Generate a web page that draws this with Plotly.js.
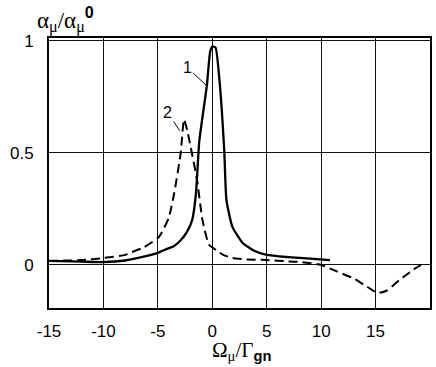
<!DOCTYPE html>
<html>
<head>
<meta charset="utf-8">
<script src="https://cdn.plot.ly/plotly-3.0.1.min.js"></script>
<style>
  html, body { margin: 0; padding: 0; background: #fff; }
  #chart { width: 436px; height: 367px; }
</style>
</head>
<body>
<div id="chart"></div>
<script>
// Curve 1 (solid)
const x1 = [-15, -12, -10, -8, -6.4, -5, -4.4, -3.5, -2.9, -2.3, -1.85, -1.5, -1.2, -0.9, -0.5, -0.2, 0, 0.3, 0.65, 1.1, 1.3, 1.85, 2.8, 3.8, 5, 7, 9, 10.8];
const y1 = [0.018, 0.015, 0.013, 0.02, 0.036, 0.054, 0.067, 0.085, 0.11, 0.15, 0.2, 0.32, 0.55, 0.66, 0.8, 0.95, 0.975, 0.97, 0.83, 0.51, 0.29, 0.17, 0.098, 0.065, 0.045, 0.035, 0.028, 0.022];

// Curve 2 (dashed)
const x2 = [-15, -12, -10, -8, -7.6, -6.4, -4.9, -4.0, -3.5, -2.9, -2.6, -2.3, -2.0, -1.4, -0.9, -0.3, 0.35, 1, 1.85, 3, 5, 7, 8.2, 10, 11.5, 12.9, 14, 15.2, 16, 17.2, 18.5, 19.5];
const y2 = [0.018, 0.022, 0.031, 0.045, 0.054, 0.076, 0.125, 0.21, 0.32, 0.5, 0.65, 0.6, 0.53, 0.38, 0.2, 0.09, 0.067, 0.045, 0.031, 0.025, 0.022, 0.016, 0.013, 0.0, -0.03, -0.058, -0.09, -0.125, -0.115, -0.067, -0.02, 0.01];

const xTicks = [-15, -10, -5, 0, 5, 10, 15];
const yTicks = [0, 0.5, 1];
const yTickText = ['0', '0.5', '1'];

const traces = [
    {
        type: 'scatter', mode: 'lines', x: x1, y: y1,
        line: { color: '#000', width: 2.3, shape: 'spline', smoothing: 0.5 },
        hoverinfo: 'skip'
    },
    {
        type: 'scatter', mode: 'lines', x: x2, y: y2,
        line: { color: '#000', width: 2, dash: '9px,5px', shape: 'spline', smoothing: 0.5 },
        hoverinfo: 'skip'
    }
];

const tickFont = { family: 'Liberation Sans, Arial, sans-serif', size: 17, color: '#000' };

const layout = {
    width: 436,
    height: 367,
    margin: { l: 49, r: 6, t: 38, b: 59 },
    paper_bgcolor: '#fff',
    plot_bgcolor: '#fff',
    showlegend: false,
    xaxis: {
        range: [-15, 20],
        tickvals: xTicks,
        ticktext: xTicks.map(String),
        tickfont: tickFont,
        ticks: '',
        ticklabelstandoff: 7,
        showgrid: true,
        gridcolor: '#111',
        gridwidth: 1,
        zeroline: false,
        showline: true,
        linecolor: '#000',
        linewidth: 2,
        mirror: true
    },
    yaxis: {
        range: [-0.192, 1.013],
        tickvals: yTicks,
        ticktext: yTickText,
        tickfont: tickFont,
        ticks: '',
        ticklabelstandoff: 10,
        showgrid: true,
        gridcolor: '#111',
        gridwidth: 1,
        zeroline: false,
        showline: true,
        linecolor: '#000',
        linewidth: 2,
        mirror: true
    },
    annotations: [
        {
            // y axis label
            xref: 'paper', yref: 'paper', x: -0.037, y: 1.07,
            xanchor: 'left', yanchor: 'middle', showarrow: false,
            text: 'α<sub>μ</sub>/α<sub>μ</sub><sup><span style="font-family:Liberation Sans;font-weight:bold">0</span></sup>',
            font: { family: 'Liberation Serif, Times New Roman, serif', size: 23, color: '#000' }
        },
        {
            // x axis label
            xref: 'paper', yref: 'paper', x: 0.505, y: -0.16,
            xanchor: 'center', yanchor: 'middle', showarrow: false,
            text: 'Ω<sub>μ</sub>/Γ<sub><span style="font-family:Liberation Sans;font-weight:bold">gn</span></sub>',
            font: { family: 'Liberation Serif, Times New Roman, serif', size: 21, color: '#000' }
        },
        {
            x: -0.5, y: 0.8, xref: 'x', yref: 'y',
            ax: -2.3, ay: 0.88, axref: 'x', ayref: 'y',
            text: '1', showarrow: true, arrowhead: 0, arrowwidth: 1, arrowcolor: '#000',
            font: { family: 'Liberation Sans, Arial, sans-serif', size: 16, color: '#000' }
        },
        {
            x: -3.0, y: 0.6, xref: 'x', yref: 'y',
            ax: -4.1, ay: 0.68, axref: 'x', ayref: 'y',
            text: '2', showarrow: true, arrowhead: 0, arrowwidth: 1, arrowcolor: '#000',
            font: { family: 'Liberation Sans, Arial, sans-serif', size: 16, color: '#000' }
        }
    ]
};

Plotly.newPlot('chart', traces, layout, { displayModeBar: false, staticPlot: true });
</script>
</body>
</html>
